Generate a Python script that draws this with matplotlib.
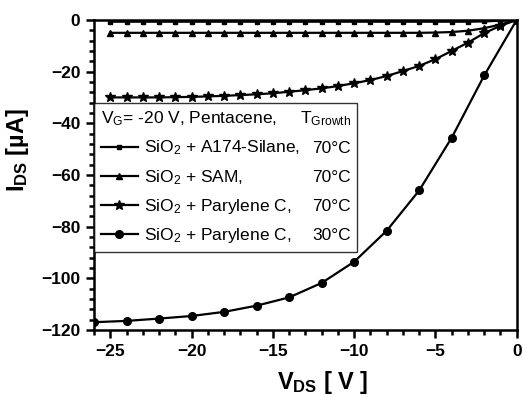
import matplotlib
matplotlib.use("Agg")
import matplotlib.pyplot as plt
from matplotlib.ticker import MultipleLocator

plt.rcParams['font.family'] = ['Liberation Sans', 'DejaVu Sans']
plt.rcParams['mathtext.fontset'] = 'custom'
plt.rcParams['mathtext.rm'] = 'Liberation Sans'
plt.rcParams['mathtext.it'] = 'Liberation Sans'
plt.rcParams['mathtext.bf'] = 'Liberation Sans:bold'

# data
vds_fine = list(range(-25, 1))
silane = [-0.7] * 23 + [-0.6, -0.3, 0.0]
sam = [-5.0] * 20 + [-4.9, -4.7, -4.2, -3.2, -1.8, 0.0]
pary70 = [-30.0, -30.0, -30.0, -30.0, -29.9, -29.8, -29.6, -29.4, -29.1, -28.8,
          -28.4, -27.8, -27.2, -26.5, -25.6, -24.5, -23.3, -21.7, -19.8, -17.8,
          -15.2, -12.0, -8.8, -5.1, -2.3, 0.0]
vds_30 = [-26, -24, -22, -20, -18, -16, -14, -12, -10, -8, -6, -4, -2, 0]
pary30 = [-117.0, -116.5, -115.6, -114.6, -113.0, -110.6, -107.4, -101.8,
          -93.6, -81.6, -66.0, -45.6, -21.5, 0.0]

labels = [r"SiO$_2$ + A174-Silane,",
          r"SiO$_2$ + SAM,",
          r"SiO$_2$ + Parylene C,",
          r"SiO$_2$ + Parylene C,"]
temps = ["70°C", "70°C", "70°C", "30°C"]

fig = plt.figure(figsize=(5.23, 3.98), dpi=100)
ax = fig.add_axes([0.18, 0.171, 0.808, 0.779])

ax.plot(vds_fine, silane, color='black', lw=1.6, marker='s', ms=2.5, label=labels[0])
ax.plot(vds_fine, sam, color='black', lw=1.6, marker='^', ms=4.5, label=labels[1])
ax.plot(vds_fine, pary70, color='black', lw=1.6, marker='*', ms=7, label=labels[2])
ax.plot(vds_30, pary30, color='black', lw=1.6, marker='o', ms=5.5, label=labels[3])

ax.set_xlim(-26, 0)
ax.set_ylim(-120, 0)
ax.xaxis.set_major_locator(MultipleLocator(5))
ax.xaxis.set_minor_locator(MultipleLocator(1))
ax.yaxis.set_major_locator(MultipleLocator(20))
ax.yaxis.set_minor_locator(MultipleLocator(4))
ax.tick_params(which='both', direction='out', top=False, right=False, width=1.8)
ax.tick_params(which='major', length=6, labelsize=12.5, pad=4)
ax.tick_params(which='minor', length=3.5)
for t in ax.get_xticklabels() + ax.get_yticklabels():
    t.set_fontweight('bold')
for s in ax.spines.values():
    s.set_linewidth(1.8)

ax.set_xlabel(r"$\mathbf{V_{DS}}$ [ V ]", fontsize=17, fontweight='bold')
ax.set_ylabel(r"$\mathbf{I_{DS}}$ [µA]", fontsize=17, fontweight='bold')
ax.xaxis.set_label_coords(0.54, -0.125)
ax.yaxis.set_label_coords(-0.15, 0.58)

leg = ax.legend(loc='upper left', bbox_to_anchor=(0.0, 0.255, 0.622, 0.478),
                mode='expand', title=r"V$_\mathrm{G}$= -20 V, Pentacene,",
                fontsize=12.5, title_fontsize=12.5, frameon=True, fancybox=False,
                edgecolor='black', borderpad=0.4, labelspacing=0.6,
                handlelength=2.1, handletextpad=0.35, borderaxespad=0.0)
leg.get_frame().set_linewidth(1.0)
leg._legend_box.align = 'left'

# temperatures right-aligned inside the legend box
fig.canvas.draw()
W, H = fig.canvas.get_width_height()
frame = leg.get_frame().get_window_extent()
xr = (frame.x1 - 6) / W
tb = leg.get_title().get_window_extent()
fig.text(xr, (tb.y0 + tb.y1) / 2 / H, r"T$_\mathrm{Growth}$", ha='right',
         va='center', fontsize=12.5)
for t, temp in zip(leg.get_texts(), temps):
    bb = t.get_window_extent()
    fig.text(xr, (bb.y0 + bb.y1) / 2 / H, temp, ha='right', va='center',
             fontsize=12.5)

fig.savefig("out.png", dpi=100)
